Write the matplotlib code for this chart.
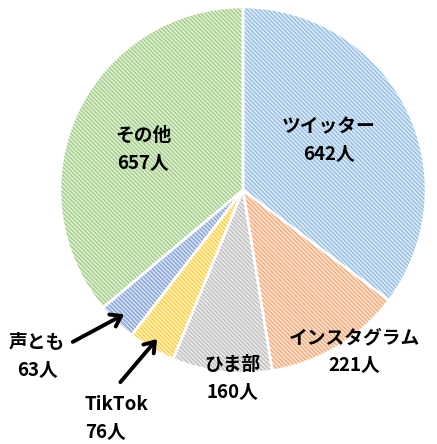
import numpy as np
import matplotlib
matplotlib.use("Agg")
import matplotlib.pyplot as plt

plt.rcParams['font.family'] = ['Noto Sans CJK JP', 'DejaVu Sans']
plt.rcParams['hatch.linewidth'] = 1.3

# data
names = ['ツイッター', 'インスタグラム', 'ひま部', 'TikTok', '声とも', 'その他']
counts = [642, 221, 160, 76, 63, 657]

stripe = ['#9DC3E6', '#F4B183', '#C4C4C4', '#FFD34D', '#8FAADC', '#A9D18E']
back = ['#EEF5FC', '#FDF0E6', '#F5F5F5', '#FFF8E0', '#E9EEF8', '#EEF7E9']

fig = plt.figure(figsize=(4.37, 4.44), dpi=100)
ax = fig.add_axes([60 / 437, 71 / 444, 366 / 437, 366 / 444])

# hatched fill
wedges, _ = ax.pie(counts, startangle=90, counterclock=False, radius=1,
                   colors=back, wedgeprops=dict(linewidth=0))
for w, c in zip(wedges, stripe):
    w.set_hatch('\\' * 8)
    w.set_edgecolor(c)
    w.set_linewidth(0)
# white borders on top
ax.pie(counts, startangle=90, counterclock=False, radius=1,
       colors=['none'] * len(counts),
       wedgeprops=dict(linewidth=1.8, edgecolor='white'))

ax.set_xlim(-1, 1)
ax.set_ylim(-1, 1)
ax.set_aspect('equal')
ax.axis('off')

# label placement (axes data units)
label_xy = [(0.47, 0.27), (0.61, -0.885), (-0.06, -1.03),
            (-0.865, -1.25), (-1.125, -0.91), (-0.545, 0.22)]
label_ha = ['center', 'center', 'center', 'left', 'center', 'center']

for n, c, (x, y), ha in zip(names, counts, label_xy, label_ha):
    ax.text(x, y, f'{n}\n{c}人', ha=ha, va='center', fontsize=13.5,
            fontweight='bold', linespacing=1.6, clip_on=False)

# arrows for the two small slices
total = sum(counts)
cum = np.cumsum([0] + counts)
tails = {'TikTok': (-0.67, -1.05), '声とも': (-0.93, -0.83)}
for i, n in enumerate(names):
    if n in tails:
        mid = (cum[i] + cum[i + 1]) / 2 / total
        ang = np.deg2rad(90 - 360 * mid)
        tip = (0.94 * np.cos(ang), 0.94 * np.sin(ang))
        ax.annotate('', xy=tip, xytext=tails[n],
                    arrowprops=dict(arrowstyle='->,head_length=0.5,head_width=0.35',
                                    color='black', lw=2.8,
                                    mutation_scale=14, shrinkA=0, shrinkB=0),
                    annotation_clip=False)

fig.savefig('out.png', dpi=100)
